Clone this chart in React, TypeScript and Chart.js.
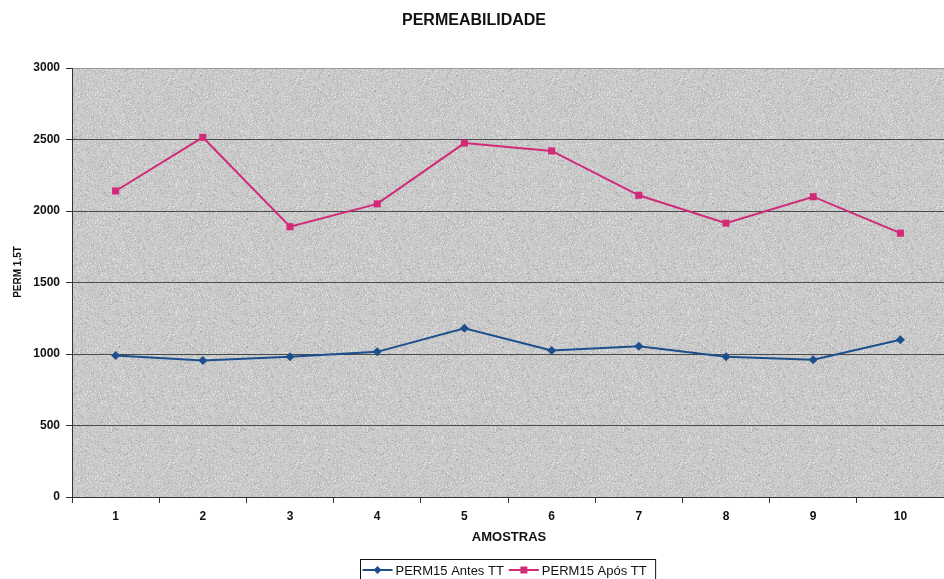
import { useEffect, useRef } from "react";
import { Chart, registerables } from "chart.js";

Chart.register(...registerables);

// Sample numbers along the x axis
const categories = ["1", "2", "3", "4", "5", "6", "7", "8", "9", "10"];

// PERM 1,5T before heat treatment
const antesTT = [990, 955, 980, 1015, 1180, 1025, 1055, 980, 960, 1100];

// PERM 1,5T after heat treatment
const aposTT = [2140, 2515, 1890, 2050, 2475, 2420, 2110, 1915, 2100, 1845];

const seriesLabels = ["PERM15 Antes TT", "PERM15 Após TT"];
const seriesColors = ["#1d4f8c", "#d02a78"];
const seriesMarkers = ["rectRot", "rect"];

const yMin = 0;
const yMax = 3000;
const yStep = 500;

const chartTitle = "PERMEABILIDADE";
const xTitle = "AMOSTRAS";
const yTitle = "PERM 1,5T";

const FONT = '"Liberation Sans", Arial, Helvetica, sans-serif';

// Grainy grey fill for the plot area (seeded, so it is the same every draw)
function makeGranite(ctx: CanvasRenderingContext2D) {
  const size = 128;
  const c = document.createElement("canvas");
  c.width = size;
  c.height = size;
  const g = c.getContext("2d")!;
  const img = g.createImageData(size, size);
  let s = 987654321;
  const rnd = () => {
    s = (Math.imul(s, 1103515245) + 12345) >>> 0;
    return (s >>> 8) / 16777216;
  };
  for (let i = 0; i < size * size; i++) {
    const r = rnd();
    let v = 201 + (rnd() - 0.5) * 22;
    if (r > 0.95) v = 228;
    else if (r < 0.04) v = 172;
    const p = i * 4;
    img.data[p] = v;
    img.data[p + 1] = v;
    img.data[p + 2] = v;
    img.data[p + 3] = 255;
  }
  g.putImageData(img, 0, 0);
  return ctx.createPattern(c, "repeat");
}

function drawMarker(ctx: CanvasRenderingContext2D, style: string, x: number, y: number, color: string) {
  ctx.fillStyle = color;
  ctx.beginPath();
  if (style === "rectRot") {
    const r = 4;
    ctx.moveTo(x, y - r);
    ctx.lineTo(x + r, y);
    ctx.lineTo(x, y + r);
    ctx.lineTo(x - r, y);
    ctx.closePath();
  } else {
    ctx.rect(x - 3.5, y - 3.5, 7, 7);
  }
  ctx.fill();
}

const decorPlugin = {
  id: "decor",
  beforeDraw(chart: any) {
    const { ctx, chartArea: a } = chart;
    ctx.save();
    ctx.fillStyle = "#ffffff";
    ctx.fillRect(0, 0, chart.width, chart.height);
    if (!chart.$granite) chart.$granite = makeGranite(ctx);
    ctx.fillStyle = chart.$granite || "#c8c8c8";
    ctx.fillRect(a.left, a.top, a.right - a.left, a.bottom - a.top);
    ctx.restore();
  },
  afterDraw(chart: any) {
    const { ctx, chartArea: a } = chart;
    const midX = (a.left + a.right) / 2;
    ctx.save();
    ctx.fillStyle = "#111111";
    ctx.textAlign = "center";
    ctx.textBaseline = "middle";

    // Chart title
    ctx.font = `bold 16px ${FONT}`;
    ctx.fillText(chartTitle, 474, 21);

    // Axis titles
    ctx.font = `bold 13px ${FONT}`;
    ctx.fillText(xTitle, midX + 1, 537);
    ctx.save();
    ctx.translate(18, 272);
    ctx.rotate(-Math.PI / 2);
    ctx.font = `bold 10px ${FONT}`;
    ctx.fillText(yTitle, 0, 0);
    ctx.restore();

    // Legend box
    ctx.font = `13px ${FONT}`;
    const lineLen = 30;
    const textGap = 3;
    const itemGap = 5;
    const padL = 2;
    const padR = 9;
    const items = chart.data.datasets.map((d: any) => ({
      label: d.label,
      color: d.borderColor,
      marker: d.pointStyle,
      w: lineLen + textGap + ctx.measureText(d.label).width,
    }));
    const total = items.reduce((s: number, it: any) => s + it.w, 0) + itemGap * (items.length - 1) + padL + padR;
    const boxLeft = Math.round(midX - total / 2) + 0.5;
    const boxTop = 559.5;
    ctx.strokeStyle = "#111111";
    ctx.lineWidth = 1;
    ctx.strokeRect(boxLeft, boxTop, total, 24);
    let x = boxLeft + padL;
    const cy = 570;
    ctx.textAlign = "left";
    for (const it of items) {
      ctx.strokeStyle = it.color;
      ctx.lineWidth = 2;
      ctx.beginPath();
      ctx.moveTo(x, cy);
      ctx.lineTo(x + lineLen, cy);
      ctx.stroke();
      drawMarker(ctx, it.marker, x + lineLen / 2, cy, it.color);
      ctx.fillStyle = "#111111";
      ctx.fillText(it.label, x + lineLen + textGap, cy + 1);
      x += it.w + itemGap;
    }
    ctx.restore();
  },
};

export default function App() {
  const canvasRef = useRef<HTMLCanvasElement | null>(null);

  useEffect(() => {
    const canvas = canvasRef.current;
    if (!canvas) return;
    const chart = new Chart(canvas, {
      type: "line",
      data: {
        labels: categories,
        datasets: [
          {
            label: seriesLabels[0],
            data: antesTT,
            borderColor: seriesColors[0],
            backgroundColor: seriesColors[0],
            borderWidth: 2,
            pointStyle: seriesMarkers[0] as any,
            pointRadius: 4.5,
            pointBorderWidth: 0,
            tension: 0,
          },
          {
            label: seriesLabels[1],
            data: aposTT,
            borderColor: seriesColors[1],
            backgroundColor: seriesColors[1],
            borderWidth: 2,
            pointStyle: seriesMarkers[1] as any,
            pointRadius: 5,
            pointBorderWidth: 0,
            tension: 0,
          },
        ],
      },
      options: {
        responsive: false,
        animation: false,
        layout: { autoPadding: false, padding: { top: 68, left: 0, right: 0, bottom: 0 } },
        plugins: {
          legend: { display: false },
          title: { display: false },
          tooltip: { enabled: false },
        },
        scales: {
          x: {
            type: "category",
            offset: true,
            afterFit: (scale: any) => {
              scale.height = 82;
              scale.paddingLeft = 0;
              scale.paddingRight = 0;
            },
            grid: {
              offset: true,
              drawOnChartArea: false,
              drawTicks: true,
              tickLength: 6,
              tickColor: "#333333",
            },
            border: { color: "#333333", width: 1 },
            ticks: {
              color: "#111111",
              font: { family: FONT, size: 12, weight: "bold" },
              padding: 6,
              maxRotation: 0,
            },
          },
          y: {
            min: yMin,
            max: yMax,
            afterFit: (scale: any) => {
              scale.width = 72;
            },
            grid: {
              color: (c: any) => (c.tick && c.tick.value === yMax ? "#9a9a9a" : "#4a4a4a"),
              lineWidth: 1,
              tickLength: 6,
              tickColor: "#333333",
            },
            border: { color: "#333333", width: 1 },
            ticks: {
              stepSize: yStep,
              color: "#111111",
              font: { family: FONT, size: 12, weight: "bold" },
              padding: 6,
              callback: (v: any) => String(v),
            },
          },
        },
      },
      plugins: [decorPlugin],
    });
    return () => chart.destroy();
  }, []);

  return (
    <div style={{ position: "absolute", left: 0, top: 0, width: 944, height: 579, background: "#ffffff" }}>
      <canvas ref={canvasRef} width={944} height={579} style={{ display: "block" }} />
    </div>
  );
}
